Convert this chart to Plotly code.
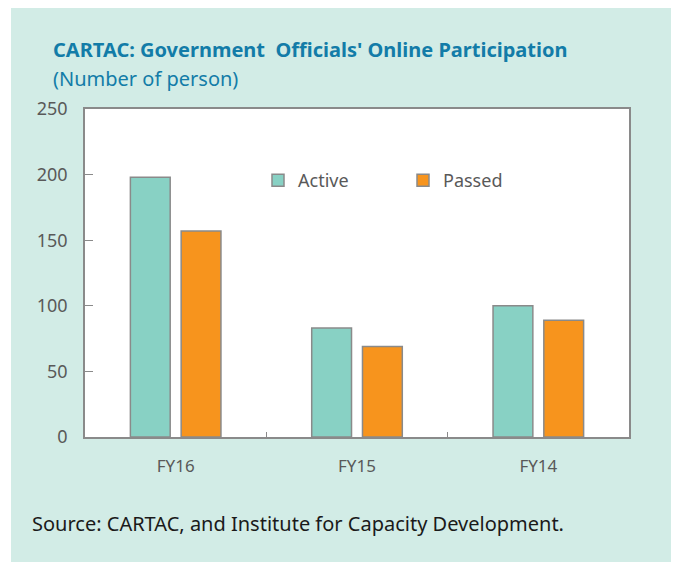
import plotly.graph_objects as go

categories = ["FY16", "FY15", "FY14"]
active = [198, 83, 100]
passed = [157, 69, 89]

W, H = 676, 564
L, R, T, B = 85, 47, 109, 127
pw, ph = W - L - R, H - T - B

def px(x):
    return (x - L) / pw

def py(y):
    return (H - B - y) / ph

fig = go.Figure()
fig.add_trace(go.Bar(name="Active", x=categories, y=active,
                     marker=dict(color="#88D1C4", line=dict(color="#8a8a8a", width=1.5))))
fig.add_trace(go.Bar(name="Passed", x=categories, y=passed,
                     marker=dict(color="#F7941D", line=dict(color="#8a8a8a", width=1.5))))

font = "Noto Sans, Open Sans, sans-serif"
fig.update_layout(
    width=W, height=H,
    margin=dict(l=L, r=R, t=T, b=B),
    paper_bgcolor="white",
    plot_bgcolor="rgba(0,0,0,0)",
    barmode="group", bargap=0.44, bargroupgap=0.216,
    font=dict(family=font, color="#595959", size=16),
    showlegend=True,
    legend=dict(orientation="h", x=px(258), y=py(162), xanchor="left", yanchor="top",
                bgcolor="rgba(0,0,0,0)", font=dict(size=18, color="#595959"),
                entrywidth=100, entrywidthmode="pixels", traceorder="normal"),
    shapes=[
        dict(type="rect", xref="paper", yref="paper", layer="below",
             x0=px(11), x1=px(671), y0=py(562), y1=py(8),
             fillcolor="#D2ECE6", line=dict(width=0)),
        dict(type="rect", xref="paper", yref="paper", layer="below",
             x0=0, x1=1, y0=0, y1=1, fillcolor="white", line=dict(width=0)),
    ],
    annotations=[
        dict(text="<b>CARTAC: Government  Officials' Online Participation</b>",
             xref="paper", yref="paper", x=px(51), y=py(50), xanchor="left", yanchor="middle",
             showarrow=False, font=dict(size=20, color="#137CA8", family=font)),
        dict(text="(Number of person)",
             xref="paper", yref="paper", x=px(51), y=py(78), xanchor="left", yanchor="middle",
             showarrow=False, font=dict(size=20, color="#137CA8", family=font)),
        dict(text="Source: CARTAC, and Institute for Capacity Development.",
             xref="paper", yref="paper", x=px(30), y=py(523), xanchor="left", yanchor="middle",
             showarrow=False, font=dict(size=20, color="#1a1a1a", family=font)),
    ],
)
fig.update_xaxes(showline=True, mirror=True, linecolor="#8a8a8a", linewidth=1.5,
                 ticks="inside", tickson="boundaries", ticklen=5, tickcolor="#8a8a8a",
                 tickfont=dict(size=17, color="#595959"), showgrid=False, ticklabelstandoff=13)
fig.update_yaxes(showline=True, mirror=True, linecolor="#8a8a8a", linewidth=1.5,
                 range=[0, 250], dtick=50, ticks="inside", ticklen=8, tickcolor="#8a8a8a",
                 tickfont=dict(size=18, color="#595959"), showgrid=False, zeroline=False,
                 ticklabelstandoff=12)

fig.write_html("out.html", config={"displayModeBar": False},
               post_script="document.body.style.margin='0';")
